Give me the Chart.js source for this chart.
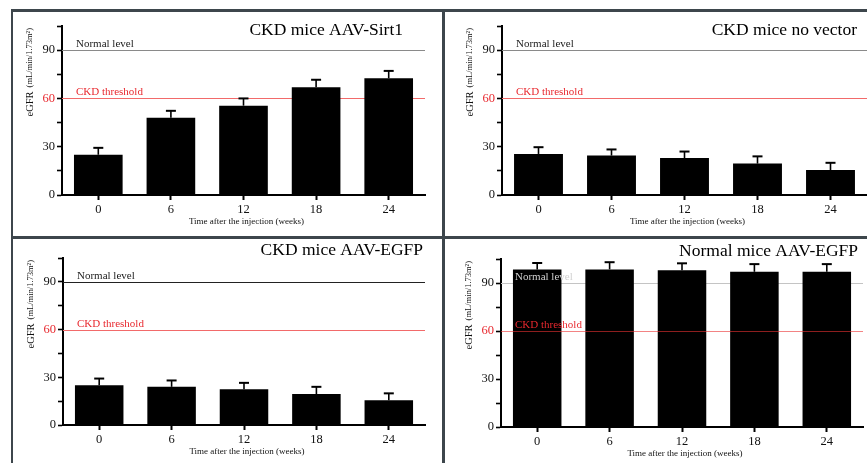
<!DOCTYPE html>
<html>
<head>
<meta charset="utf-8">
<script src="https://cdn.jsdelivr.net/npm/chart.js@4.4.1/dist/chart.umd.min.js"></script>
<style>
  html, body { margin: 0; padding: 0; background: #fff; overflow: hidden; }
  body { width: 867px; height: 463px; position: relative; }
  canvas { position: absolute; }
  .frame { position: absolute; background: #3d464c; }
</style>
</head>
<body>
<div class="frame" style="left:11px;top:9px;width:856px;height:3px"></div>
<div class="frame" style="left:11px;top:236px;width:856px;height:3px"></div>
<div class="frame" style="left:11px;top:9px;width:2px;height:454px"></div>
<div class="frame" style="left:442px;top:9px;width:3px;height:454px"></div>

<canvas id="sirt1" width="429" height="224" style="left:13px;top:12px"></canvas>
<canvas id="novector" width="422" height="224" style="left:445px;top:12px"></canvas>
<canvas id="ckdegfp" width="429" height="224" style="left:13px;top:239px"></canvas>
<canvas id="normalegfp" width="422" height="224" style="left:445px;top:239px"></canvas>

<script>
const weeks = ['0', '6', '12', '18', '24'];
const yLabelTicks = [0, 30, 60, 90];

const sirt1Values = [25, 48, 55.5, 67, 72.5];
const sirt1Errors = [4.3, 4.3, 4.5, 4.6, 4.6];

const noVectorValues = [25.5, 24.5, 23, 19.5, 15.5];
const noVectorErrors = [4.2, 3.8, 4, 4.5, 4.5];

const ckdEgfpValues = [25, 24, 22.5, 19.5, 15.5];
const ckdEgfpErrors = [4.2, 4, 4, 4.5, 4.4];

const normalEgfpValues = [98.5, 98.5, 98, 97, 97];
const normalEgfpErrors = [4, 4.5, 4.3, 4.8, 4.8];

const normalLevel = 90;
const ckdThreshold = 60;

const SERIF = '"Liberation Serif", "DejaVu Serif", serif';
const RED = '#e8282e';

function refLine(chart, value, color) {
  const { ctx, chartArea: a, scales: { y } } = chart;
  const py = Math.round(y.getPixelForValue(value)) + 0.5;
  ctx.save();
  ctx.lineWidth = 1.2;
  ctx.strokeStyle = color;
  ctx.beginPath();
  ctx.moveTo(a.left, py);
  ctx.lineTo(a.right, py);
  ctx.stroke();
  ctx.restore();
}

const panelDecor = {
  id: 'panelDecor',
  beforeDatasetsDraw(chart, args, opts) {
    refLine(chart, normalLevel, opts.normalLine);
    if (!opts.ckdOnTop) refLine(chart, ckdThreshold, opts.ckdLine);
  },
  afterDatasetsDraw(chart, args, opts) {
    const { ctx, chartArea: a, scales: { y } } = chart;
    const ds = chart.data.datasets[0];
    const meta = chart.getDatasetMeta(0);
    if (opts.ckdOnTop) refLine(chart, ckdThreshold, opts.ckdLine);
    ctx.save();

    // upper error bars
    ctx.strokeStyle = '#000';
    meta.data.forEach((bar, i) => {
      const top = y.getPixelForValue(ds.data[i] + ds.errors[i]);
      const base = y.getPixelForValue(ds.data[i]);
      ctx.lineWidth = 1.6;
      ctx.beginPath();
      ctx.moveTo(bar.x, base);
      ctx.lineTo(bar.x, top);
      ctx.stroke();
      ctx.lineWidth = 2;
      ctx.beginPath();
      ctx.moveTo(bar.x - 5, top);
      ctx.lineTo(bar.x + 5, top);
      ctx.stroke();
    });

    // reference labels
    ctx.font = '11px ' + SERIF;
    ctx.textAlign = 'left';
    ctx.textBaseline = 'alphabetic';
    ctx.fillStyle = opts.normalText;
    ctx.fillText('Normal level', a.left + 14, y.getPixelForValue(normalLevel) - 3);
    ctx.fillStyle = RED;
    ctx.fillText('CKD threshold', a.left + 14, y.getPixelForValue(ckdThreshold) - 3);

    // panel title
    ctx.fillStyle = '#000';
    ctx.font = '17.5px ' + SERIF;
    ctx.textAlign = 'right';
    ctx.fillText(opts.title, a.right - opts.titleInset, a.top + opts.titleDy);

    // x axis title
    ctx.font = '9px ' + SERIF;
    ctx.textAlign = 'center';
    ctx.textBaseline = 'middle';
    ctx.fillStyle = '#111';
    ctx.fillText('Time after the injection (weeks)', (a.left + a.right) / 2 + 3, a.bottom + 27);

    // y axis title, two sizes like the original
    ctx.translate(a.left - 32, a.top + 2);
    ctx.rotate(-Math.PI / 2);
    ctx.textAlign = 'right';
    ctx.font = '8.5px ' + SERIF;
    const units = '(mL/min/1.73m\u00B2)';
    const uw = ctx.measureText(units).width;
    ctx.fillText(units, 0, 0);
    ctx.font = '10.5px ' + SERIF;
    ctx.fillText('eGFR', -uw - 4, 0);
    ctx.restore();
  }
};

function makePanel(id, values, errors, p) {
  return new Chart(document.getElementById(id), {
    type: 'bar',
    data: {
      labels: weeks,
      datasets: [{
        data: values,
        errors: errors,
        backgroundColor: '#000',
        borderWidth: 0,
        barPercentage: 0.67,
        categoryPercentage: 1
      }]
    },
    options: {
      responsive: false,
      animation: false,
      devicePixelRatio: 1,
      layout: { padding: { left: 0, top: p.top, right: p.right, bottom: 0 } },
      plugins: {
        legend: { display: false },
        tooltip: { enabled: false },
        panelDecor: p.decor
      },
      scales: {
        x: {
          grid: { offset: false, drawOnChartArea: false, tickLength: 5, tickWidth: 2, tickColor: '#000' },
          border: { color: '#000', width: 2 },
          ticks: { color: '#111', padding: 2, font: { family: SERIF, size: 12.5 } },
          afterFit: s => { s.height = p.xHeight; }
        },
        y: {
          min: 0,
          max: 105,
          grid: { drawOnChartArea: false, tickLength: 5, tickWidth: 1.6, tickColor: '#000' },
          border: { color: '#000', width: 2 },
          ticks: {
            stepSize: 15,
            padding: 2,
            font: { family: SERIF, size: 12.5 },
            color: c => c.tick.value === ckdThreshold ? RED : '#111',
            callback: v => yLabelTicks.includes(v) ? v : ''
          },
          afterFit: s => { s.width = p.yWidth; }
        }
      }
    },
    plugins: [panelDecor]
  });
}

makePanel('sirt1', sirt1Values, sirt1Errors, {
  top: 14, right: 17, xHeight: 41, yWidth: 49,
  decor: { title: 'CKD mice AAV-Sirt1', titleInset: 22, titleDy: 9,
           normalLine: '#8a8a8a', ckdLine: '#f26a6a', normalText: '#1a1a1a' }
});
makePanel('novector', noVectorValues, noVectorErrors, {
  top: 14, right: 0, xHeight: 41, yWidth: 57,
  decor: { title: 'CKD mice no vector', titleInset: 10, titleDy: 9,
           normalLine: '#8a8a8a', ckdLine: '#f26a6a', normalText: '#1a1a1a' }
});
makePanel('ckdegfp', ckdEgfpValues, ckdEgfpErrors, {
  top: 19, right: 17, xHeight: 38, yWidth: 50,
  decor: { title: 'CKD mice AAV-EGFP', titleInset: 2, titleDy: -3,
           normalLine: '#222', ckdLine: '#f26a6a', normalText: '#1a1a1a' }
});
makePanel('normalegfp', normalEgfpValues, normalEgfpErrors, {
  top: 20, right: 4, xHeight: 36, yWidth: 56,
  decor: { title: 'Normal mice AAV-EGFP', titleInset: 5, titleDy: -3,
           normalLine: '#c4c4c4', ckdLine: 'rgba(235, 50, 50, 0.6)', ckdOnTop: true, normalText: '#d0d0d0' }
});
</script>
</body>
</html>
